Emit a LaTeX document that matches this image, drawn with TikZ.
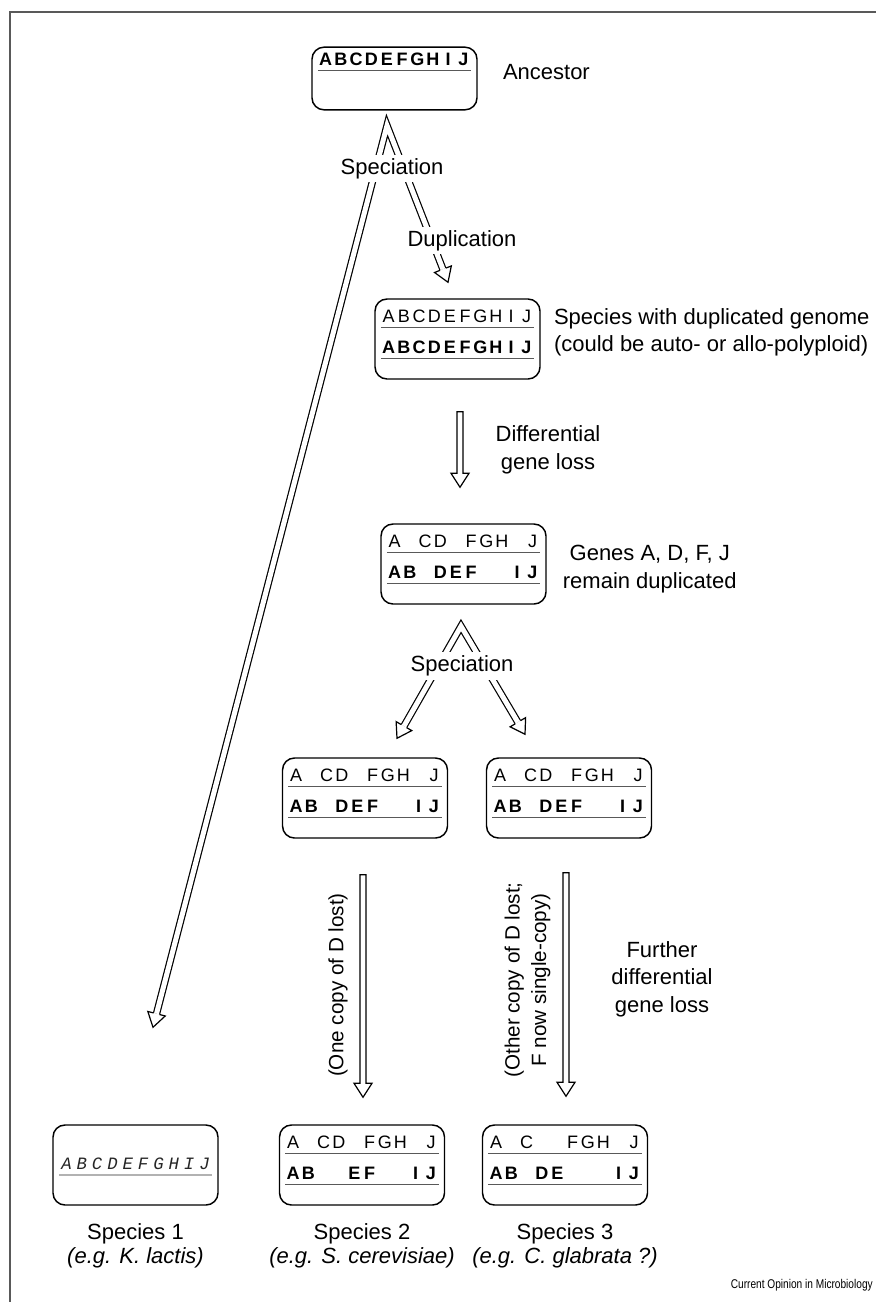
\documentclass[tikz,border=0pt]{standalone}
\usepackage{fontspec}
\setmainfont{Liberation Sans}
\setmonofont{Liberation Mono}
\newfontfamily\narrowfont[FakeStretch=0.8]{Liberation Sans}
\usetikzlibrary{positioning,calc}

\definecolor{rulegray}{gray}{0.35}
\definecolor{framegray}{gray}{0.35}

\newcommand{\gn}[1]{\makebox[11.5pt]{#1}}
\newcommand{\genes}[9]{\gn{#1}\gn{#2}\gn{#3}\gn{#4}\gn{#5}\gn{#6}\gn{#7}\gn{#8}\gn{#9}\genesend}
\newcommand{\genesend}[1]{\gn{#1}}
\newcommand{\rowline}{\llap{\textcolor{rulegray}{\rule[-4.4pt]{115pt}{1pt}}}}

\newcommand{\headlen}{10.5pt}
\newcommand{\headw}{6.75pt}
\newcommand{\shaftw}{2.3pt}
\newcommand{\fathead}[2]{%
  \coordinate (hb) at ($(#1)!\headlen!(#2)$);
  \draw[arrowline] ($(hb)!\shaftw!-90:(#1)$) -- ($(hb)!\headw!-90:(#1)$) -- (#1)
    -- ($(hb)!\headw!90:(#1)$) -- ($(hb)!\shaftw!90:(#1)$);
}
\newcommand{\fatarrow}[2]{%
  \coordinate (hb) at ($(#2)!\headlen!(#1)$);
  \draw[arrowline] ($(#1)!\shaftw!90:(#2)$) -- ($(hb)!\shaftw!90:(#2)$) -- ($(hb)!\headw!90:(#2)$)
    -- (#2) -- ($(hb)!\headw!-90:(#2)$) -- ($(hb)!\shaftw!-90:(#2)$) -- ($(#1)!\shaftw!-90:(#2)$) -- cycle;
}

\begin{document}
\begin{tikzpicture}[x=0.75pt, y=-0.75pt,
  genome/.style={draw, line width=1.1pt, rounded corners=9pt, minimum width=123.75pt, minimum height=60pt, inner sep=0pt},
  generow/.style={anchor=base, inner sep=0pt, font=\fontsize{13.5}{16}\selectfont},
  lbl/.style={font=\fontsize{16.5}{20.5}\selectfont, inner sep=0pt, align=center},
  cut/.style={lbl, fill=white, inner sep=2.5pt},
  arrowline/.style={line width=0.9pt, fill=white, line join=miter},
  dbl/.style={double, double distance=3.75pt, line width=0.9pt, line join=miter, shorten <=\headlen, shorten >=\headlen}
]
\useasboundingbox (0,0) rectangle (876,1302);
\draw[framegray, line width=1.1pt] (10,1302) -- (10,12) -- (876,12);

\node[genome, minimum height=47pt] (anc) at (394.5,78.5) {};
\node[genome] (dup) at (457.5,339) {};
\node[genome] (loss) at (463.5,564) {};
\node[genome] (splitL) at (365,798) {};
\node[genome] (splitR) at (569,798) {};
\node[genome] (sp1) at (135.5,1165) {};
\node[genome] (sp2) at (362,1165) {};
\node[genome] (sp3) at (565,1165) {};

\node[generow] (anc-b) at ($(anc.north)+(0,19)$) {\bfseries\genes ABCDEFGHIJ\rowline};
\node[generow] (dup-a) at ($(dup.north)+(0,24)$) {\genes ABCDEFGHIJ\rowline};
\node[generow] (dup-b) at ($(dup.north)+(0,55)$) {\bfseries\genes ABCDEFGHIJ\rowline};
\node[generow] (loss-a) at ($(loss.north)+(0,24)$) {\genes A{}CD{}FGH{}J\rowline};
\node[generow] (loss-b) at ($(loss.north)+(0,55)$) {\bfseries\genes AB{}DEF{}{}IJ\rowline};
\node[generow] (splitL-a) at ($(splitL.north)+(0,24)$) {\genes A{}CD{}FGH{}J\rowline};
\node[generow] (splitL-b) at ($(splitL.north)+(0,55)$) {\bfseries\genes AB{}DEF{}{}IJ\rowline};
\node[generow] (splitR-a) at ($(splitR.north)+(0,24)$) {\genes A{}CD{}FGH{}J\rowline};
\node[generow] (splitR-b) at ($(splitR.north)+(0,55)$) {\bfseries\genes AB{}DEF{}{}IJ\rowline};
\node[generow, font=\ttfamily\itshape\fontsize{13}{15}\selectfont, text=black!85] (sp1-a) at ($(sp1.north)+(0,45)$) {\genes ABCDEFGHIJ\llap{\textcolor{gray!60}{\rule[-5pt]{115pt}{1.5pt}}}};
\node[generow] (sp2-a) at ($(sp2.north)+(0,24)$) {\genes A{}CD{}FGH{}J\rowline};
\node[generow] (sp2-b) at ($(sp2.north)+(0,55)$) {\bfseries\genes AB{}{}EF{}{}IJ\rowline};
\node[generow] (sp3-a) at ($(sp3.north)+(0,24)$) {\genes A{}C{}{}FGH{}J\rowline};
\node[generow] (sp3-b) at ($(sp3.north)+(0,55)$) {\bfseries\genes AB{}DE{}{}{}IJ\rowline};

\coordinate (fork1) at ($(anc.south)+(-7.5,15)$);
\coordinate (toSp1) at ($(sp1.north)+(17.5,-97)$);
\coordinate (toDup) at ($(dup.north)+(-9.5,-16)$);
\draw[dbl] (toSp1) -- (fork1) -- (toDup);
\fathead{toSp1}{fork1}
\fathead{toDup}{fork1}

\coordinate (fork2) at ($(loss.south)+(-2.5,21.5)$);
\coordinate (toL) at ($(splitL.north)+(32,-19)$);
\coordinate (toR) at ($(splitR.north)+(-44,-23)$);
\draw[dbl] (toL) -- (fork2) -- (toR);
\fathead{toL}{fork2}
\fathead{toR}{fork2}

\coordinate (lossFrom) at ($(dup.south)+(2.5,32)$);
\coordinate (lossTo) at ($(loss.north)+(-3.5,-36)$);
\fatarrow{lossFrom}{lossTo}
\coordinate (sp2From) at ($(splitL.south)+(-2,36)$);
\coordinate (sp2To) at ($(sp2.north)+(1,-27)$);
\fatarrow{sp2From}{sp2To}
\coordinate (sp3From) at ($(splitR.south)+(-3,34)$);
\coordinate (sp3To) at ($(sp3.north)+(1,-28)$);
\fatarrow{sp3From}{sp3To}

\node[cut, anchor=base] (spec1) at ($(anc.south)+(-2.5,64)$) {Speciation};
\node[cut, anchor=base] (dupl) at (462,246) {Duplication};
\node[cut, anchor=base] (spec2) at ($(loss.south)+(-1.5,67)$) {Speciation};

\node[lbl, anchor=base west] (ancestor) at ($(anc.east)+(25,1.5)$) {Ancestor};
\node[lbl, align=left, anchor=west] (dupnote) at ($(dup.east)+(13,-7)$) {Species with duplicated genome\\(could be auto- or allo-polyploid)};
\node[lbl] (lossnote) at ($(dup.south)+(90.5,70)$) {Differential\\gene loss};
\node[lbl] (keepnote) at ($(loss.east)+(103,5)$) {Genes A, D, F, J\\remain duplicated};
\node[lbl] (furthernote) at (662,979) {Further\\differential\\gene loss};
\node[lbl, font=\fontsize{15.5}{20}\selectfont, rotate=90] (lostD) at (338,985) {(One copy of D lost)};
\node[lbl, font=\fontsize{15.5}{20}\selectfont, rotate=90] (lostF) at (527.5,980) {(Other copy of D lost;\\F now single-copy)};

\node[lbl, font=\fontsize{16.5}{18}\selectfont, below=13.5pt of sp1] (name1) {Species 1\\\textit{(e.g. K. lactis)}};
\node[lbl, font=\fontsize{16.5}{18}\selectfont, below=13.5pt of sp2] (name2) {Species 2\\\textit{(e.g. S. cerevisiae)}};
\node[lbl, font=\fontsize{16.5}{18}\selectfont, below=13.5pt of sp3] (name3) {Species 3\\\textit{(e.g. C. glabrata ?)}};

\node[anchor=base east, inner sep=0pt, font=\narrowfont\fontsize{9.5}{11}\selectfont] (credit) at (873,1288) {Current Opinion in Microbiology};
\end{tikzpicture}
\end{document}
